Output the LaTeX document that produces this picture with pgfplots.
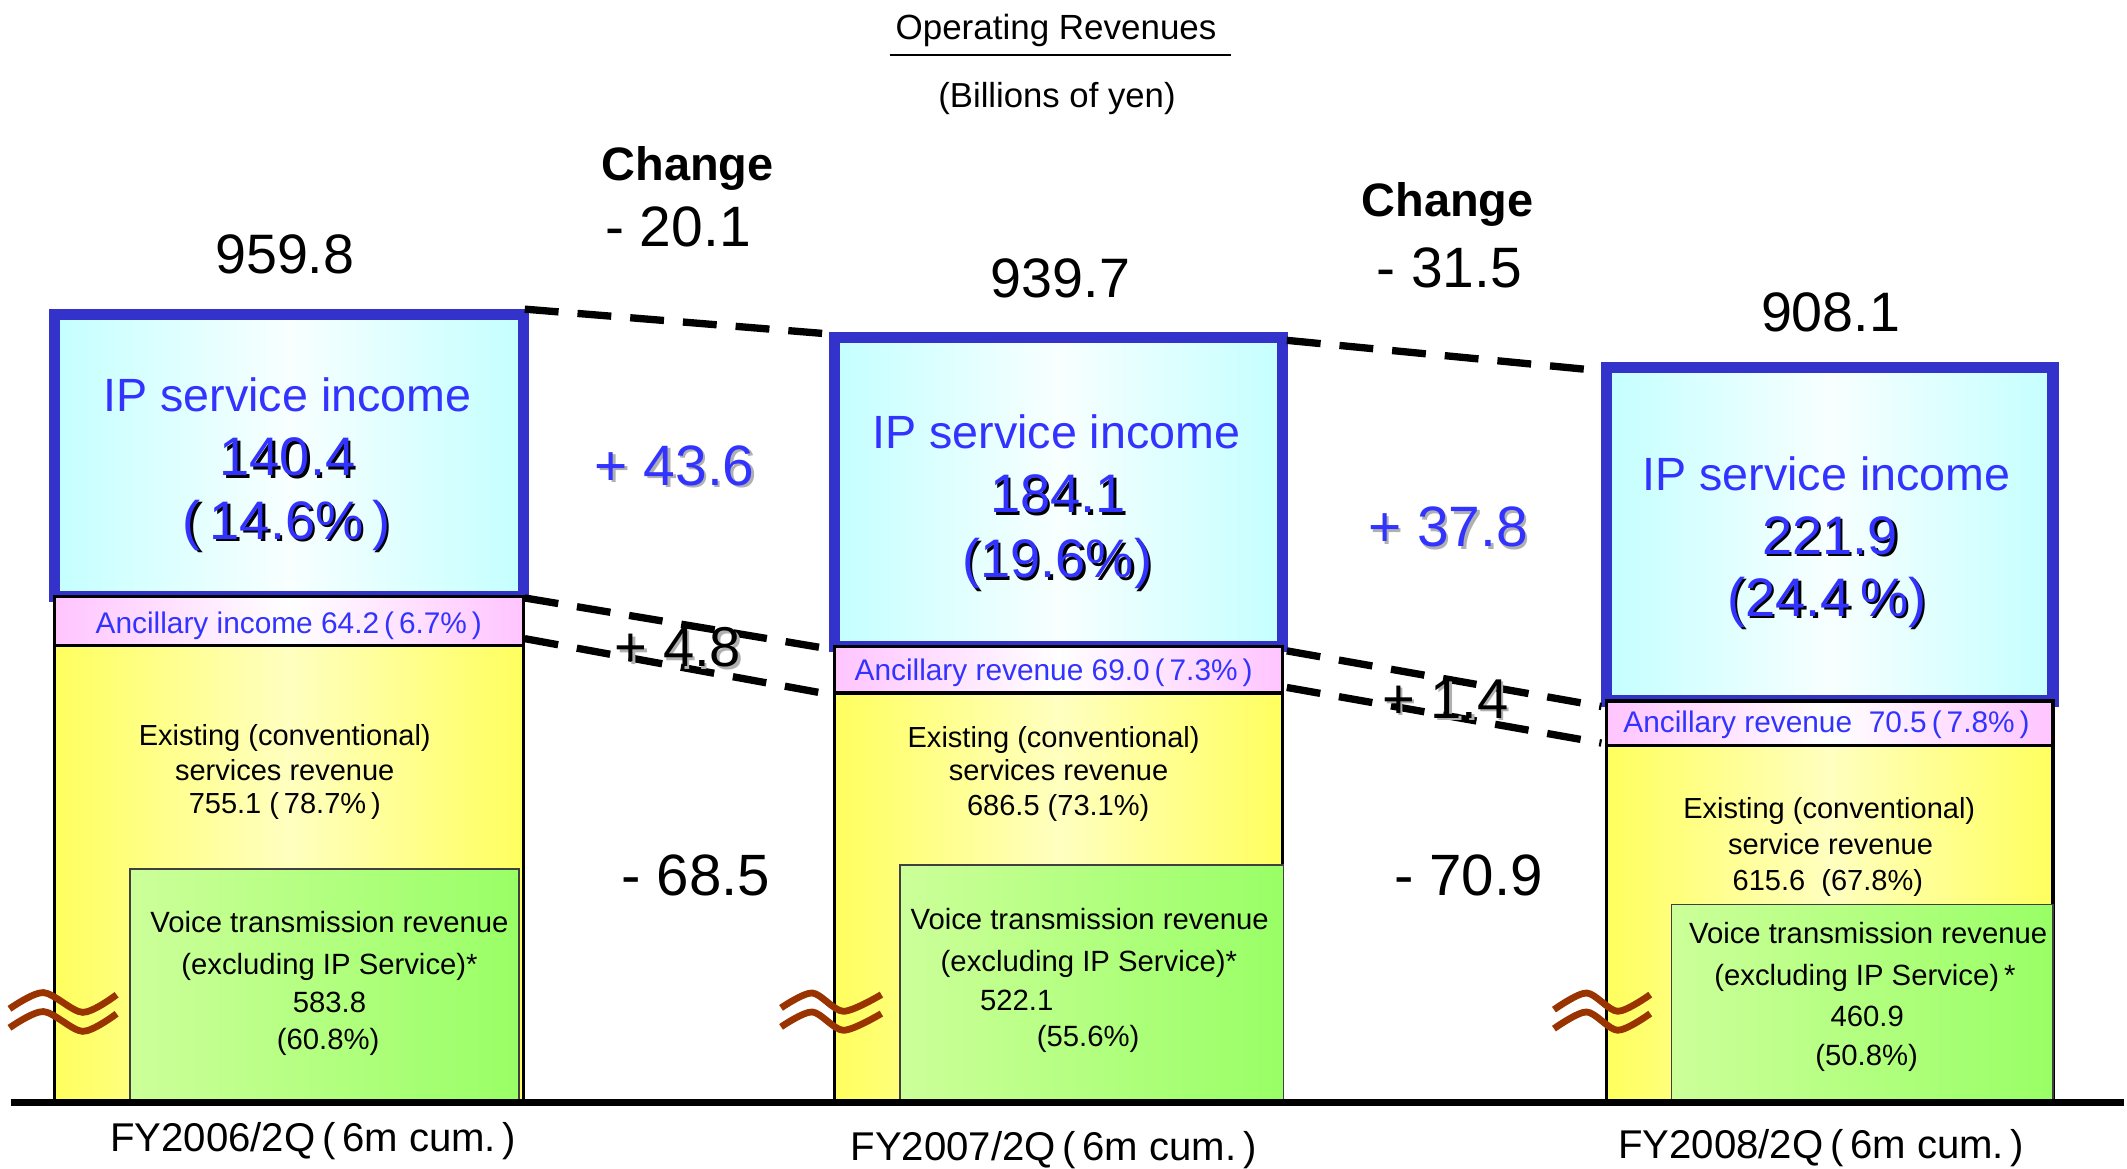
\documentclass[border=0pt]{standalone}
\usepackage{pgfplots}
\pgfplotsset{compat=1.18}
\usepackage{fontspec}
\setmainfont{Liberation Sans}

\definecolor{ipblue}{HTML}{3333CC}
\definecolor{iptext}{HTML}{3333FF}
\definecolor{cyanE}{HTML}{C4FFFF}
\definecolor{cyanM}{HTML}{F8FFFF}
\definecolor{pinkE}{HTML}{FFC4FF}
\definecolor{yelE}{HTML}{FFFF5E}
\definecolor{yelM}{HTML}{FFFFC0}
\definecolor{grL}{HTML}{CCFF99}
\definecolor{grR}{HTML}{99FF66}
\definecolor{wavec}{HTML}{993300}
\definecolor{shd}{HTML}{B0B0B0}

\pgfplotsset{base/.style={scale only axis, width=784pt, height=430pt,
  xmin=0, xmax=1568, ymin=-47, ymax=813, hide axis, clip=false}}

% one stacked bar (heights as drawn on the broken axis): x, existing, ancillary, IP, bar width
\newcommand\stackbar[5]{%
\begin{axis}[base, ybar stacked, bar width=#5]
\addplot[draw=black, line width=1.2pt, left color=yelE, right color=yelE, middle color=yelM] coordinates {(#1,#2)};
\addplot[draw=black, line width=1.2pt, left color=pinkE, right color=pinkE, middle color=white] coordinates {(#1,#3)};
\addplot[draw=ipblue, line width=4.2pt, left color=cyanE, right color=cyanE, middle color=cyanM] coordinates {(#1,#4)};
\end{axis}}

\newcommand\tx[6][]{\node[anchor=base, inner sep=0pt, text=#5,
  font={\fontsize{#4pt}{#4pt}\selectfont}, #1] at (axis cs:#2,{813-#3-0.72*#4}) {#6};}
\newcommand\stx[7][]{%
  \node[anchor=base, inner sep=0pt, text=#6, font={\fontsize{#4pt}{#4pt}\selectfont}, xshift=0.9pt, yshift=-0.9pt, #1] at (axis cs:#2,{813-#3-0.72*#4}) {#7};
  \node[anchor=base, inner sep=0pt, text=#5, font={\fontsize{#4pt}{#4pt}\selectfont}, #1] at (axis cs:#2,{813-#3-0.72*#4}) {#7};}

\begin{document}
\begin{tikzpicture}
\stackbar{213}{337}{36}{208}{346}
\stackbar{780.8}{302}{34}{228}{330.4}
\stackbar{1349.4}{263}{33}{246}{329.3}

\begin{axis}[base]
\path (axis cs:0,-47) rectangle (axis cs:1568,813);
% voice transmission boxes
\addplot[ybar, bar width=287, bar shift=0pt, draw=black!75, line width=0.6pt, left color=grL, right color=grR] coordinates {(239.4,172)};
\addplot[ybar, bar width=283, bar shift=0pt, draw=black!75, line width=0.6pt, left color=grL, right color=grR] coordinates {(805,175)};
\addplot[ybar, bar width=281.4, bar shift=0pt, draw=black!75, line width=0.6pt, left color=grL, right color=grR] coordinates {(1373.3,146)};
% baseline
\addplot[black, line width=2.6pt] coordinates {(8,0) (1566,0)};
% break symbols
\addplot[wavec, line width=2.5pt, smooth] coordinates {(7,69) (32,81) (61,66.4) (86,79.4)};
\addplot[wavec, line width=2.5pt, smooth] coordinates {(7,55) (32,67) (61,52.4) (86,65.4)};
\addplot[wavec, line width=2.5pt, smooth] coordinates {(576,69.7) (599,80.7) (622,67.2) (650,79.5)};
\addplot[wavec, line width=2.5pt, smooth] coordinates {(576,55.7) (599,66.7) (622,53.2) (650,65.5)};
\addplot[wavec, line width=2.5pt, smooth] coordinates {(1146,68.4) (1170,80.7) (1193,67.2) (1217,79.5)};
\addplot[wavec, line width=2.5pt, smooth] coordinates {(1146,54.4) (1170,66.7) (1193,53.2) (1217,65.5)};
% connecting dashed lines
\addplot[black, line width=2.7pt, dash pattern=on 12.5pt off 7pt] coordinates {(387,585) (614,566.5)};
\addplot[black, line width=2.7pt, dash pattern=on 12.5pt off 7pt] coordinates {(949,562) (1181,539.5)};
\addplot[black, line width=2.7pt, dash pattern=on 12.5pt off 7pt] coordinates {(387,372) (614,334)};
\addplot[black, line width=2.7pt, dash pattern=on 12.5pt off 7pt] coordinates {(949,333) (1181,292)};
\addplot[black, line width=2.7pt, dash pattern=on 12.5pt off 7pt] coordinates {(387,342) (614,300.5)};
\addplot[black, line width=2.7pt, dash pattern=on 12.5pt off 7pt] coordinates {(949,306) (1181,265)};
% title
\tx{778.8}{19.7}{12.9}{black}{Operating Revenues}
\addplot[black, line width=0.75pt] coordinates {(656,772.5) (908,772.5)};
\tx{779.5}{70}{12.8}{black}{(Billions of yen)}
% changes in total
\tx{507}{120.4}{17.3}{black}{\bfseries Change}
\tx{500}{167}{21}{black}{- 20.1}
\tx{1067.5}{147.4}{17.3}{black}{\bfseries Change}
\tx{1068.7}{196.6}{21}{black}{- 31.5}
% totals
\tx{210}{187}{20.5}{black}{959.8}
\tx{782}{205}{20.5}{black}{939.7}
\tx{1350}{230}{20.5}{black}{908.1}
% IP service
\tx{212}{291.2}{17.2}{iptext}{IP service income}
\stx{212}{336.6}{20}{iptext}{black}{140.4}
\stx{211.4}{383.3}{20}{iptext}{black}{(\,14.6\%\,)}
\tx{779}{318.2}{17.2}{iptext}{IP service income}
\stx{780.4}{363.7}{20}{iptext}{black}{184.1}
\stx{779.7}{411.6}{20}{iptext}{black}{(19.6\%)}
\tx{1347}{349}{17.2}{iptext}{IP service income}
\stx{1349.5}{394.4}{20}{iptext}{black}{221.9}
\stx{1347.3}{439.9}{20}{iptext}{black}{(24.4\,\%)}
% ancillary
\tx{213}{459.5}{11}{iptext}{Ancillary income 64.2\,(\,6.7\%\,)}
\tx{777}{494}{11}{iptext}{Ancillary revenue 69.0\,(\,7.3\%\,)}
\tx{1347}{532}{11}{iptext}{Ancillary revenue~~70.5\,(\,7.8\%\,)}
% existing
\tx{210}{542}{10.7}{black}{Existing (conventional)}
\tx{210}{567.6}{10.7}{black}{services revenue}
\tx{210}{592.6}{10.7}{black}{755.1~(\,78.7\%\,)}
\tx{777}{543.3}{10.7}{black}{Existing (conventional)}
\tx{780.7}{567.6}{10.7}{black}{services revenue}
\tx{780.4}{593.4}{10.7}{black}{686.5 (73.1\%)}
\tx{1349}{595.9}{10.7}{black}{Existing (conventional)}
\tx{1350}{622.2}{10.7}{black}{service revenue}
\tx{1348}{648.7}{10.7}{black}{615.6~~(67.8\%)}
% voice
\tx{243}{680}{10.8}{black}{Voice transmission revenue}
\tx{243}{710.9}{10.8}{black}{(excluding IP Service)*}
\tx{243}{739}{10.8}{black}{583.8}
\tx{242}{766}{10.8}{black}{(60.8\%)}
\tx{803.6}{678}{10.8}{black}{Voice transmission revenue}
\tx{803}{709}{10.8}{black}{(excluding IP Service)*}
\tx{749.8}{737.2}{10.8}{black}{522.1}
\tx{802.5}{764.2}{10.8}{black}{(55.6\%)}
\tx{1377.7}{688}{10.8}{black}{Voice transmission revenue}
\tx{1375.3}{718.8}{10.8}{black}{(excluding IP Service)\,*}
\tx{1377}{749.5}{10.8}{black}{460.9}
\tx{1376.6}{777.7}{10.8}{black}{(50.8\%)}
% categories
\tx{231}{838.8}{14.8}{black}{FY2006/2Q\,(\,6m cum.\,)}
\tx{777}{845.3}{14.8}{black}{FY2007/2Q\,(\,6m cum.\,)}
\tx{1343}{844}{14.8}{black}{FY2008/2Q\,(\,6m cum.\,)}
% component changes
\stx{497.6}{342.8}{21}{iptext}{shd}{+ 43.6}
\stx{1068}{388}{21}{iptext}{shd}{+ 37.8}
\stx{500}{476.7}{20.7}{black}{shd}{+ 4.8}
\stx{1066}{515}{20.7}{black}{shd}{+ 1.4}
\tx{513}{645}{21.5}{black}{- 68.5}
\tx{1083}{645}{21.5}{black}{- 70.9}
\end{axis}
\end{tikzpicture}
\end{document}
